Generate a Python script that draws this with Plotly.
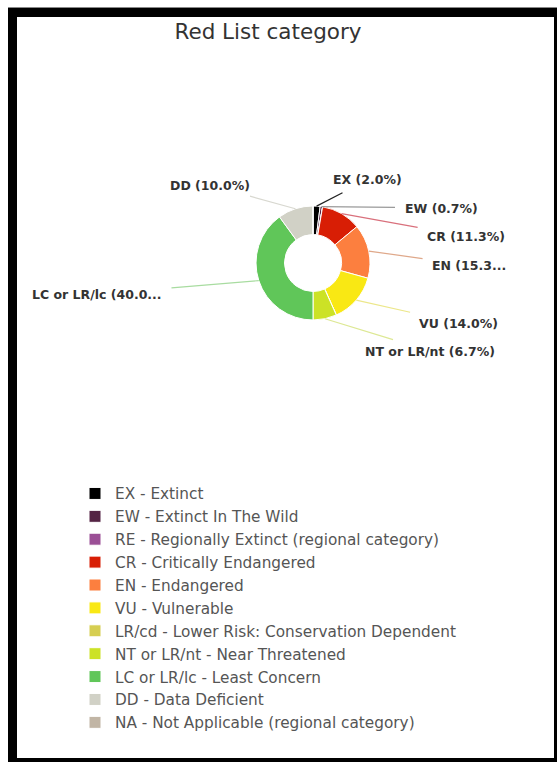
import math
import plotly.graph_objects as go

# ---- data ----
codes = ["EX", "EW", "RE", "CR", "EN", "VU", "LR/cd", "NT or LR/nt", "LC or LR/lc", "DD", "NA"]
legend_names = [
    "EX - Extinct",
    "EW - Extinct In The Wild",
    "RE - Regionally Extinct (regional category)",
    "CR - Critically Endangered",
    "EN - Endangered",
    "VU - Vulnerable",
    "LR/cd - Lower Risk: Conservation Dependent",
    "NT or LR/nt - Near Threatened",
    "LC or LR/lc - Least Concern",
    "DD - Data Deficient",
    "NA - Not Applicable (regional category)",
]
percent = [2.0, 0.7, 0.0, 11.3, 15.3, 14.0, 0.0, 6.7, 40.0, 10.0, 0.0]
slice_labels = ["EX (2.0%)", "EW (0.7%)", "", "CR (11.3%)", "EN (15.3...", "VU (14.0%)", "",
                "NT or LR/nt (6.7%)", "LC or LR/lc (40.0...", "DD (10.0%)", ""]

# ---- styles ----
colors = ["#000000", "#542344", "#9B4F96", "#D81E05", "#FC7F3F", "#F9E814",
          "#D6CE51", "#CCE226", "#60C659", "#D1D1C6", "#C1B5A5"]
line_colors = ["#222222", "#9a9a9a", "#ffffff", "#d9707c", "#dfa88a", "#ece78a",
               "#ffffff", "#dde894", "#a8dca0", "#d8d8d0", "#ffffff"]
# label text centres (pixels)
label_pos = {
    "EX": (367, 180), "EW": (441, 208), "CR": (466, 236), "EN": (469, 265),
    "VU": (458, 323), "NT or LR/nt": (430, 351), "LC or LR/lc": (97, 294), "DD": (210, 185),
}

W, H = 557, 762
cx, cy, R = 313, 263, 57
FONT = "DejaVu Sans, Verdana, sans-serif"

fig = go.Figure()
fig.add_trace(go.Pie(
    labels=legend_names, values=percent, sort=False, direction="clockwise",
    hole=0.5, textinfo="none", hoverinfo="label+percent",
    marker=dict(colors=colors, line=dict(color="white", width=1)),
    domain=dict(x=[(cx - R) / W, (cx + R) / W], y=[1 - (cy + R) / H, 1 - (cy - R) / H]),
))

annotations = []
total = sum(percent)
cum = 0.0
for code, v, txt, lc in zip(codes, percent, slice_labels, line_colors):
    if v <= 0:
        continue
    mid = (cum + v / 2) / total
    cum += v
    ang = 2 * math.pi * mid
    px = cx + R * math.sin(ang)
    py = cy - R * math.cos(ang)
    tx, ty = label_pos[code]
    annotations.append(dict(
        x=px / W, y=1 - py / H, xref="paper", yref="paper",
        ax=tx - px, ay=ty - py, axref="pixel", ayref="pixel",
        text="<b>" + txt + "</b>", showarrow=True, arrowhead=0, arrowwidth=1.2,
        startstandoff=8,
        arrowcolor=lc, xanchor="center", yanchor="middle",
        font=dict(family=FONT, size=12.5, color="#333333"),
    ))

fig.update_layout(
    width=W, height=H,
    margin=dict(l=0, r=0, t=0, b=0),
    paper_bgcolor="white",
    title=dict(text="Red List category", x=268 / W, xanchor="center", y=1 - 31 / H, yanchor="middle",
               font=dict(family=FONT, size=21.5, color="#333333")),
    showlegend=True,
    legend=dict(x=75 / W, xanchor="left", y=1 - 477 / H, yanchor="top",
                font=dict(family=FONT, size=15.3, color="#555555"),
                bgcolor="rgba(0,0,0,0)", traceorder="normal"),
    annotations=annotations,
    shapes=[
        dict(type="line", xref="paper", yref="paper", x0=8 / W, x1=1, y0=1 - 7.5 / H, y1=1 - 7.5 / H,
             line=dict(color="#888888", width=1)),
        dict(type="rect", xref="paper", yref="paper", x0=12.5 / W, x1=558.5 / W,
             y0=1 - 762.5 / H, y1=1 - 12.5 / H, line=dict(color="black", width=9)),
    ],
)

fig.write_html("out.html")
